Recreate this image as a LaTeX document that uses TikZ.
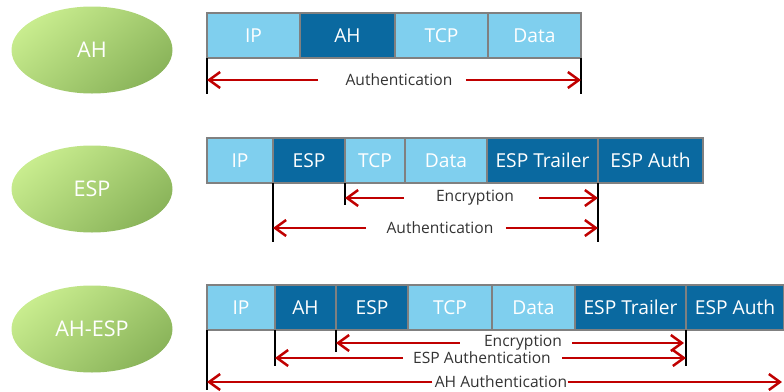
\documentclass[tikz,border=0pt]{standalone}
\usepackage{fontspec}
\setmainfont{Open Sans}
\usetikzlibrary{arrows.meta, positioning, shapes.geometric}
\definecolor{pktlight}{HTML}{7FCFEE}
\definecolor{pktdark}{HTML}{0A69A0}
\definecolor{pktedge}{HTML}{808080}
\definecolor{arrowred}{HTML}{C00000}
\definecolor{modelight}{HTML}{C8EC8E}
\definecolor{modedark}{HTML}{8AB45A}
\tikzset{
  field/.style={draw=pktedge, line width=0.7pt, rectangle, minimum height=22.5pt, inner sep=0pt, outer sep=0pt, text=white, font=\fontsize{9.6}{11}\selectfont},
  lightfield/.style={field, fill=pktlight},
  darkfield/.style={field, fill=pktdark},
  mode/.style={ellipse, minimum width=80.5pt, minimum height=43.5pt, inner sep=0pt, text=white, top color=modelight, bottom color=modedark, shading angle=40, font=\fontsize{10.8}{12}\selectfont},
  span/.style={font=\fontsize{7.8}{9}\selectfont, inner sep=0pt, text=black!80},
  spanarrow/.style={-{Straight Barb[length=5.5pt, width=8pt]}, draw=arrowred, line width=1.25pt},
  marker/.style={draw=black, line width=1pt}
}

\begin{document}
\begin{tikzpicture}[x=0.5pt, y=-0.5pt]
\useasboundingbox (0,0) rectangle (784,392);

% modes
\node[mode] (ahmode) at (92,50) {AH};
\node[mode] (espmode) at (92,189) {ESP};
\node[mode] (bothmode) at (92,329) {AH-ESP};

% AH packet
\node[lightfield, minimum width=46.5pt, anchor=north west] (ip1) at (207,13) {IP};
\node[darkfield, minimum width=47.5pt, right=0pt of ip1] (ah1) {AH};
\node[lightfield, minimum width=46.5pt, right=0pt of ah1] (tcp1) {TCP};
\node[lightfield, minimum width=46.5pt, right=0pt of tcp1] (data1) {Data};

\node[span] (auth1) at (399,80) {Authentication};
\draw[marker] (ip1.south west) -- ++(0,36);
\draw[marker] (data1.south east) -- ++(0,36);
\draw[spanarrow, shorten <=13.5pt] (auth1.west) -- (ip1.south west |- auth1.west);
\draw[spanarrow, shorten <=6.5pt] (auth1.east) -- (data1.south east |- auth1.east);

% ESP packet
\node[lightfield, minimum width=33pt, anchor=north west] (ip2) at (207,138) {IP};
\node[darkfield, minimum width=36pt, right=0pt of ip2] (esp2) {ESP};
\node[lightfield, minimum width=30pt, right=0pt of esp2] (tcp2) {TCP};
\node[lightfield, minimum width=41pt, right=0pt of tcp2] (data2) {Data};
\node[darkfield, minimum width=55.5pt, right=0pt of data2] (trl2) {ESP Trailer};
\node[darkfield, minimum width=52.5pt, right=0pt of trl2] (eauth2) {ESP Auth};

\node[span] (enc2) at (475,198) {Encryption};
\node[span] (auth2) at (440,228) {Authentication};
\draw[marker] (tcp2.south west) -- ++(0,22);
\draw[marker] (esp2.south west) -- ++(0,59);
\draw[marker] (trl2.south east) -- ++(0,59);
\draw[spanarrow, shorten <=16pt] (enc2.west) -- (tcp2.south west |- enc2.west);
\draw[spanarrow, shorten <=12.5pt] (enc2.east) -- (trl2.south east |- enc2.east);
\draw[spanarrow, shorten <=10pt] (auth2.west) -- (esp2.south west |- auth2.west);
\draw[spanarrow, shorten <=6pt] (auth2.east) -- (trl2.south east |- auth2.east);

% AH-ESP packet
\node[lightfield, minimum width=34pt, anchor=north west] (ip3) at (207,285) {IP};
\node[darkfield, minimum width=30.5pt, right=0pt of ip3] (ah3) {AH};
\node[darkfield, minimum width=36pt, right=0pt of ah3] (esp3) {ESP};
\node[lightfield, minimum width=42pt, right=0pt of esp3] (tcp3) {TCP};
\node[lightfield, minimum width=41.5pt, right=0pt of tcp3] (data3) {Data};
\node[darkfield, minimum width=55.5pt, right=0pt of data3] (trl3) {ESP Trailer};
\node[darkfield, minimum width=49pt, right=0pt of trl3] (eauth3) {ESP Auth};

\node[span] (enc3) at (523,343) {Encryption};
\node[span] (eauth3l) at (482,358) {ESP Authentication};
\node[span] (ahauth3) at (501,382) {AH Authentication};
\draw[marker] (esp3.south west) -- ++(0,22);
\draw[marker] (ah3.south west) -- ++(0,36);
\draw[marker] (ip3.south west) -- ++(0,60);
\draw[marker] (trl3.south east) -- ++(0,36);
\draw[spanarrow, shorten <=12pt] (enc3.west) -- (esp3.south west |- enc3.west);
\draw[spanarrow, shorten <=5pt] (enc3.east) -- ([xshift=-1pt]trl3.south east |- enc3.east);
\draw[spanarrow, shorten <=5pt] (eauth3l.west) -- (ah3.south west |- eauth3l.west);
\draw[spanarrow, shorten <=5.5pt] (eauth3l.east) -- (trl3.south east |- eauth3l.east);
\draw[spanarrow, shorten <=1pt] (ahauth3.west) -- (ip3.south west |- ahauth3.west);
\draw[spanarrow] (ahauth3.east) -- ([xshift=-1pt]eauth3.south east |- ahauth3.east);
\end{tikzpicture}
\end{document}
